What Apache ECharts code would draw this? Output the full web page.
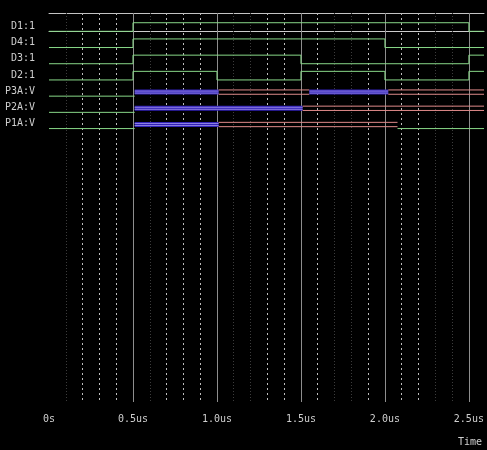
<!DOCTYPE html>
<html>
<head>
<meta charset="utf-8">
<script src="https://cdn.jsdelivr.net/npm/echarts@6/dist/echarts.min.js"></script>
<style>
html, body { margin: 0; padding: 0; background: #000; }
#chart { width: 487px; height: 450px; }
</style>
</head>
<body>
<div id="chart"></div>
<script>
// rows, top to bottom
const signalNames = ['D1:1', 'D4:1', 'D3:1', 'D2:1', 'P3A:V', 'P2A:V', 'P1A:V'];
const tickValues = [0, 0.5, 1, 1.5, 2, 2.5];
const tickLabels = ['0s', '0.5us', '1.0us', '1.5us', '2.0us', '2.5us'];
const endTime = 2.59;

// grid lines (us)
const majorLines = [0.5, 1, 1.5, 2, 2.5];
const minorLines = [0.2, 0.3, 0.4, 0.7, 0.8, 0.9, 1.3, 1.4, 1.6, 1.9, 2.1, 2.2];
const faintLines = [0.1, 0.6, 1.1, 1.2, 1.7, 1.8, 2.3, 2.4];

// digital signals: switch times (us) and level from there on
const d1Times = [0, 0.5, 2.5];
const d1Levels = [0, 1, 0];
const d4Times = [0, 0.5, 2.0];
const d4Levels = [0, 1, 0];
const d3Times = [0, 0.5, 1.5, 2.5];
const d3Levels = [0, 1, 0, 1];
const d2Times = [0, 0.5, 1.0, 1.5, 2.0, 2.5];
const d2Levels = [0, 1, 0, 1, 0, 1];

// probes: switch times (us) and trace state (z = flat, b = blue band, r = red pair)
const p3aTimes = [0, 0.51, 1.01, 1.55, 2.02];
const p3aStates = ['z', 'b', 'r', 'b', 'r'];
const p2aTimes = [0, 0.51, 1.51];
const p2aStates = ['z', 'b', 'r'];
const p1aTimes = [0, 0.51, 1.01, 2.075];
const p1aStates = ['z', 'b', 'r', 'z'];

const GREEN = '#88d888';
const BLUE = '#3222b8';
const LAVENDER = '#8c7ee0';
const RED = '#e08a8a';
const HIGH = 0.53;     // high level, in rows
const BAND = 0.25;     // band centre above the row
const PAIR = 0.133;    // half gap of the red pair

const series = [];

function seg(x0, x1, y, color, width) {
  series.push({
    type: 'line', silent: true, symbol: 'none', z: 5,
    lineStyle: { color: color, width: width },
    data: [[x0, y], [x1, y]]
  });
}

function digital(row, times, levels) {
  const pts = [];
  times.forEach((t, i) => {
    if (i > 0) pts.push([t, row - levels[i - 1] * HIGH]);
    pts.push([t, row - levels[i] * HIGH]);
  });
  pts.push([endTime, row - levels[levels.length - 1] * HIGH]);
  series.push({
    type: 'line', silent: true, symbol: 'none', z: 5,
    lineStyle: { color: GREEN, width: 1 },
    data: pts
  });
}

function probe(row, times, states) {
  times.forEach((t0, i) => {
    const t1 = i + 1 < times.length ? times[i + 1] : endTime;
    const c = row - BAND;
    if (states[i] === 'z') {
      seg(t0, t1, row, GREEN, 1);
    } else if (states[i] === 'b') {
      seg(t0, t1, c, BLUE, 5);
      seg(t0, t1, c - 0.062, LAVENDER, 1);
      seg(t0, t1, c + 0.062, LAVENDER, 1);
    } else {
      seg(t0, t1, c - PAIR, RED, 1);
      seg(t0, t1, c + PAIR, RED, 1);
    }
  });
}

digital(0, d1Times, d1Levels);
digital(1, d4Times, d4Levels);
digital(2, d3Times, d3Levels);
digital(3, d2Times, d2Levels);
probe(4, p3aTimes, p3aStates);
probe(5, p2aTimes, p2aStates);
probe(6, p1aTimes, p1aStates);

// grid lines as mark lines on an empty series
series.push({
  type: 'line', silent: true, symbol: 'none', z: 1, data: [],
  markLine: {
    silent: true, symbol: 'none', animation: false,
    label: { show: false },
    data: majorLines.map(v => ({ xAxis: v, lineStyle: { color: '#8e8e8e', width: 1, type: 'solid' } }))
      .concat(minorLines.map(v => ({ xAxis: v, lineStyle: { color: '#bdbdbd', width: 1, type: [2, 3] } })))
      .concat(faintLines.map(v => ({ xAxis: v, lineStyle: { color: '#3c3c3c', width: 1, type: [1, 2] } })))
  }
});

const chart = echarts.init(document.getElementById('chart'));
chart.setOption({
  backgroundColor: '#000',
  animation: false,
  textStyle: { fontFamily: 'DejaVu Sans Mono' },
  grid: { left: 49, right: 3, top: 13, bottom: 48 },
  xAxis: [
    {
      type: 'value', min: 0, max: endTime,
      axisLine: { lineStyle: { color: '#cccccc', width: 1 } },
      axisTick: { show: true, length: 6, customValues: majorLines, lineStyle: { color: '#8e8e8e' } },
      axisLabel: {
        customValues: tickValues, margin: 12,
        color: '#cfcfcf', fontSize: 10, fontFamily: 'DejaVu Sans Mono',
        formatter: v => tickLabels[tickValues.indexOf(v)] || ''
      },
      splitLine: { show: false }
    },
    {
      type: 'value', min: 0, max: endTime, position: 'top',
      axisLine: { show: true, lineStyle: { color: '#c4c4c4', width: 1 } },
      axisTick: { show: false }, axisLabel: { show: false }, splitLine: { show: false }
    }
  ],
  yAxis: {
    type: 'value', inverse: true, min: -1.13, max: 22.87,
    axisLine: { show: false }, axisTick: { show: false }, splitLine: { show: false },
    axisLabel: {
      customValues: signalNames.map((n, i) => i - 0.3), margin: 14,
      color: '#cfcfcf', fontSize: 10, fontFamily: 'DejaVu Sans Mono',
      formatter: v => signalNames[Math.round(v + 0.3)] || ''
    }
  },
  graphic: [{
    type: 'text', left: 458, top: 437,
    style: { text: 'Time', fill: '#cfcfcf', font: '10px "DejaVu Sans Mono"' }
  }],
  series: series
});
</script>
</body>
</html>
